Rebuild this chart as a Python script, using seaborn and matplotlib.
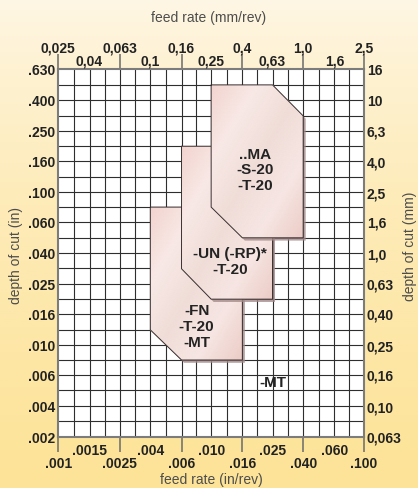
import numpy as np
import pandas as pd
import seaborn as sns
import matplotlib.pyplot as plt
import matplotlib.transforms as mtransforms
from matplotlib.patches import Polygon
from matplotlib.colors import LinearSegmentedColormap

# axis scales (nominal values, mm on top/right, inch on bottom/left)
feed_mm = ['0,025', '0,04', '0,063', '0,1', '0,16', '0,25', '0,4', '0,63', '1,0', '1,6', '2,5']
feed_in = ['.001', '.0015', '.0025', '.004', '.006', '.010', '.016', '.025', '.040', '.060', '.100']
depth_mm = ['0,063', '0,10', '0,16', '0,25', '0,40', '0,63', '1,0', '1,6', '2,5', '4,0', '6,3', '10', '16']
depth_in = ['.002', '.004', '.006', '.010', '.016', '.025', '.040', '.060', '.100', '.160', '.250', '.400', '.630']

# application fields: corner points, feed (mm/rev) and depth of cut (mm)
ma_feed = [0.25, 0.63, 1.0, 1.0, 0.40, 0.25]
ma_depth = [12.6, 12.6, 7.9, 1.26, 1.26, 2.0]
un_feed = [0.16, 0.40, 0.63, 0.63, 0.25, 0.16]
un_depth = [5.0, 5.0, 3.15, 0.50, 0.50, 0.79]
fn_feed = [0.10, 0.25, 0.40, 0.40, 0.16, 0.10]
fn_depth = [2.0, 2.0, 1.26, 0.20, 0.20, 0.315]

field_labels = ['..MA\n-S-20\n-T-20', '-UN (-RP)*\n-T-20', '-FN\n-T-20\n-MT']


def to_num(s):
    return float(s.replace(',', '.'))


def draw_field(ax, feed, depth, z):
    fig = ax.figure
    pts = np.column_stack([feed, depth])
    # drop shadow, a few pixels down/right
    shift = mtransforms.ScaledTranslation(0.025, -0.028, fig.dpi_scale_trans)
    ax.add_patch(Polygon(pts, closed=True, fc='#a48a8a', ec='none', alpha=0.8,
                         transform=ax.transData + shift, zorder=z))
    # pinkish gradient body
    xs = np.geomspace(min(feed), max(feed), 40)
    ys = np.geomspace(min(depth), max(depth), 40)
    X, Y = np.meshgrid(xs, ys)
    u = np.log10(X / xs[0]) / np.log10(xs[-1] / xs[0])
    v = np.log10(ys[-1] / Y) / np.log10(ys[-1] / ys[0])
    t = (u + v) / 2
    cmap = LinearSegmentedColormap.from_list(
        'field', ['#f2d4cf', '#f8e9e6', '#f0ddd8', '#f6e6e3', '#ecccc6'])
    mesh = ax.pcolormesh(X, Y, t, cmap=cmap, shading='gouraud', zorder=z + 0.1)
    mesh.set_clip_path(Polygon(pts, closed=True, transform=ax.transData))
    # outline
    loop = pd.DataFrame({'feed': list(feed) + [feed[0]], 'depth': list(depth) + [depth[0]]})
    sns.lineplot(data=loop, x='feed', y='depth', sort=False, estimator=None,
                 color='#3a3030', lw=0.7, ax=ax, zorder=z + 0.2)


sns.set_style('white')
plt.rcParams['font.family'] = ['Liberation Sans', 'DejaVu Sans']

fig = plt.figure(figsize=(4.18, 4.89), dpi=100)

# page background gradient
bg = fig.add_axes([0, 0, 1, 1], zorder=-10)
bg.imshow(np.linspace(0, 1, 256)[:, None] ** 0.8, aspect='auto', extent=[0, 1, 0, 1],
          cmap=LinearSegmentedColormap.from_list('bg', ['#fff7e6', '#fdebb8', '#fde397']))
bg.axis('off')

ax = fig.add_axes([0.1395, 0.1049, 0.7313, 0.7519])
ax.set_facecolor('white')
ax.set_xscale('log')
ax.set_yscale('log')

xt = np.array([to_num(s) for s in feed_mm])
yt = np.array([to_num(s) for s in depth_mm])
ax.set_xlim(xt[0], xt[-1])
ax.set_ylim(yt[0], yt[-1])

# grid: every label plus half steps between
xg = np.sort(np.concatenate([xt, np.sqrt(xt[:-1] * xt[1:])]))
yg = np.sort(np.concatenate([yt, np.sqrt(yt[:-1] * yt[1:])]))
ax.vlines(xg[1:-1], yt[0], yt[-1], colors='#2e2e2e', lw=0.8, zorder=1)
ax.hlines(yg[1:-1], xt[0], xt[-1], colors='#2e2e2e', lw=0.8, zorder=1)

for s in ax.spines.values():
    s.set_color('#7c7c7c')
    s.set_linewidth(1.5)
    s.set_zorder(2)

ax.xaxis.set_major_locator(plt.FixedLocator(xt[::2]))
ax.xaxis.set_minor_locator(plt.NullLocator())
ax.yaxis.set_major_locator(plt.NullLocator())
ax.yaxis.set_minor_locator(plt.NullLocator())
ax.tick_params(axis='x', which='major', direction='out', length=11, width=1.1,
               color='#6a6a6a', top=True, bottom=True, labelbottom=False, labeltop=False)
ax.set_xlabel('')
ax.set_ylabel('')

draw_field(ax, fn_feed, fn_depth, 3)
draw_field(ax, un_feed, un_depth, 5)
draw_field(ax, ma_feed, ma_depth, 7)

tfont = dict(fontsize=11, fontweight='bold', color='#232323', ha='center', va='center',
             linespacing=1.15, zorder=10)
ax.text(0.484, 3.53, field_labels[0], **tfont)
ax.text(0.333, 0.887, field_labels[1], **tfont)
ax.text(0.201, 0.334, field_labels[2], **tfont)
ax.text(0.63, 0.144, '-MT', **tfont)

# tick labels in two staggered rows
lab = dict(fontsize=10, fontweight='bold', color='#222222', va='baseline',
           textcoords='offset pixels', annotation_clip=False)
for i, x in enumerate(xt):
    dy_top = 18 if i % 2 == 0 else 5
    dy_bot = -30 if i % 2 == 0 else -17
    ax.annotate(feed_mm[i], xy=(x, 1), xycoords=('data', 'axes fraction'),
                xytext=(0, dy_top), ha='center', **lab)
    ax.annotate(feed_in[i], xy=(x, 0), xycoords=('data', 'axes fraction'),
                xytext=(0, dy_bot), ha='center', **lab)
for i, y in enumerate(yt):
    ax.annotate(depth_in[i], xy=(0, y), xycoords=('axes fraction', 'data'),
                xytext=(-3, -5), ha='right', **lab)
    ax.annotate(depth_mm[i], xy=(1, y), xycoords=('axes fraction', 'data'),
                xytext=(3, -5), ha='left', **lab)

title = dict(fontsize=10, color='#4d4d4d')
fig.text(209 / 418, 1 - 22 / 489, 'feed rate (mm/rev)', ha='center', va='baseline', **title)
fig.text(211.5 / 418, 1 - 484 / 489, 'feed rate (in/rev)', ha='center', va='baseline', **title)
fig.text(16.5 / 418, 1 - 255 / 489, 'depth of cut (in)', rotation=90,
         ha='center', va='center', **title)
fig.text(410 / 418, 1 - 246.5 / 489, 'depth of cut (mm)', rotation=90,
         ha='center', va='center', **title)

fig.savefig('out.png', dpi=100)
